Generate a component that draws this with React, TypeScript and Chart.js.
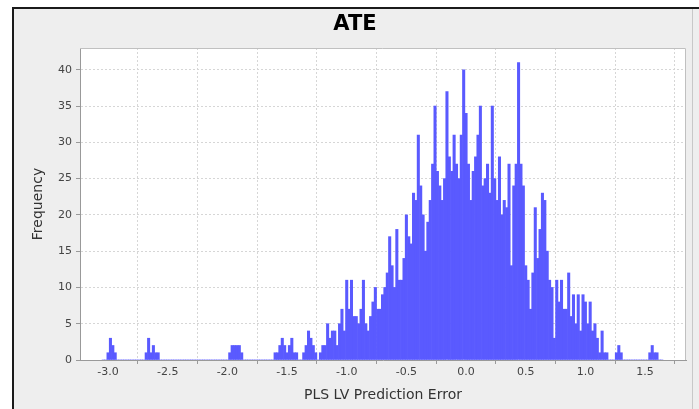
import React, { useEffect, useRef } from 'react';
import { Chart, registerables } from 'chart.js';

Chart.register(...registerables);

const chartTitle = 'ATE';
const xAxisTitle = 'PLS LV Prediction Error';
const yAxisTitle = 'Frequency';

// histogram bins: centre of the first bin and width of each bin
const binStart = -3.04;
const binWidth = 0.02;

// counts per bin (10 bins per row)
const frequency = [
  0, 0, 1, 3, 2, 1, 0, 0, 0, 0, // -3.04
  0, 0, 0, 0, 0, 0, 0, 0, 1, 3, // -2.84
  1, 2, 1, 1, 0, 0, 0, 0, 0, 0, // -2.64
  0, 0, 0, 0, 0, 0, 0, 0, 0, 0, // -2.44
  0, 0, 0, 0, 0, 0, 0, 0, 0, 0, // -2.24
  0, 0, 0, 1, 2, 2, 2, 2, 1, 0, // -2.04
  0, 0, 0, 0, 0, 0, 0, 0, 0, 0, // -1.84
  0, 0, 1, 1, 2, 3, 2, 1, 2, 3, // -1.64
  1, 1, 0, 0, 1, 2, 4, 3, 2, 1, // -1.44
  0, 1, 2, 2, 5, 3, 4, 4, 2, 5, // -1.24
  7, 4, 11, 7, 11, 6, 6, 5, 7, 11, // -1.04
  5, 4, 6, 8, 10, 7, 7, 9, 10, 12, // -0.84
  17, 13, 10, 18, 11, 11, 14, 20, 17, 16, // -0.64
  23, 22, 31, 24, 20, 15, 19, 22, 27, 35, // -0.44
  26, 24, 22, 25, 37, 28, 26, 31, 27, 25, // -0.24
  31, 40, 34, 27, 22, 26, 28, 31, 35, 24, // -0.04
  25, 27, 23, 35, 25, 22, 28, 20, 22, 21, // 0.16
  27, 13, 24, 27, 41, 27, 24, 13, 11, 7, // 0.36
  12, 21, 14, 18, 23, 22, 15, 11, 10, 3, // 0.56
  11, 8, 11, 7, 7, 12, 6, 9, 5, 9, // 0.76
  4, 9, 8, 5, 8, 4, 5, 3, 1, 4, // 0.96
  1, 1, 0, 0, 0, 1, 2, 1, 0, 0, // 1.16
  0, 0, 0, 0, 0, 0, 0, 0, 0, 1, // 1.36
  2, 1, 1, 0, 0, // 1.56
];

const xTickValues = [-3.0, -2.5, -2.0, -1.5, -1.0, -0.5, 0.0, 0.5, 1.0, 1.5];
const yTickValues = [0, 5, 10, 15, 20, 25, 30, 35, 40];
const xRange = [-3.235, 1.843];
const yRange = [0, 43];

const FONT = "'DejaVu Sans', sans-serif";

export default function App() {
  const ref = useRef<HTMLCanvasElement>(null);

  useEffect(() => {
    const canvas = ref.current;
    if (!canvas) return;

    const points = frequency.map((f, i) => ({
      x: Number((binStart + i * binWidth).toFixed(2)),
      y: f,
    }));

    const framePlugin = {
      id: 'framePlugin',
      beforeDraw(chart: any) {
        const { ctx, width, height, chartArea: a } = chart;
        ctx.save();
        ctx.fillStyle = '#ffffff';
        ctx.fillRect(0, 0, width, height);
        ctx.fillStyle = '#eeeeee';
        ctx.fillRect(14, 9, width - 14, height - 9);
        ctx.fillStyle = '#1a1a1a';
        ctx.fillRect(12, 7, width - 12, 2);
        ctx.fillRect(12, 7, 2, height - 7);
        ctx.fillStyle = '#c8c8c8';
        ctx.fillRect(692, 9, 1, height - 9);
        ctx.fillStyle = '#ffffff';
        ctx.fillRect(a.left, a.top, a.right - a.left, a.bottom - a.top);
        ctx.restore();
      },
      afterDraw(chart: any) {
        const { ctx, chartArea: a } = chart;
        ctx.save();
        ctx.strokeStyle = '#c0c0c0';
        ctx.lineWidth = 1;
        ctx.beginPath();
        ctx.moveTo(a.left, a.top + 0.5);
        ctx.lineTo(a.right - 0.5, a.top + 0.5);
        ctx.lineTo(a.right - 0.5, a.bottom);
        ctx.stroke();
        ctx.restore();
      },
    };

    const chart = new Chart(canvas, {
      type: 'bar',
      data: {
        datasets: [
          {
            label: yAxisTitle,
            data: points,
            backgroundColor: 'rgb(90, 90, 255)',
            borderWidth: 0,
            barPercentage: 1,
            categoryPercentage: 1,
          },
        ],
      },
      options: {
        responsive: false,
        animation: false,
        layout: { padding: { left: 24, right: 13, top: 0, bottom: 0 } },
        plugins: {
          legend: { display: false },
          tooltip: { enabled: false },
          title: {
            display: true,
            text: chartTitle,
            color: '#000000',
            font: { family: FONT, size: 21, weight: 'bold' },
            padding: { top: 12.4, bottom: 10.4 },
          },
        },
        scales: {
          x: {
            type: 'linear',
            min: xRange[0],
            max: xRange[1],
            offset: false,
            afterBuildTicks: (s: any) => {
              s.ticks = xTickValues.map((v) => ({ value: v }));
            },
            afterFit: (s: any) => {
              s.height = 49;
            },
            ticks: {
              autoSkip: false,
              maxRotation: 0,
              padding: 2,
              color: '#444444',
              font: { family: FONT, size: 11 },
              callback: (v: any) => Number(v).toFixed(1),
            },
            grid: { color: '#d6d6d6', tickColor: '#999999', tickLength: 4 },
            border: { color: '#999999', dash: [2, 2] },
            title: {
              display: true,
              text: xAxisTitle,
              color: '#333333',
              font: { family: FONT, size: 14 },
              padding: { top: 0, bottom: 5 },
            },
          },
          y: {
            type: 'linear',
            min: yRange[0],
            max: yRange[1],
            afterBuildTicks: (s: any) => {
              s.ticks = yTickValues.map((v) => ({ value: v }));
            },
            afterFit: (s: any) => {
              s.width = 56;
            },
            ticks: {
              padding: 4,
              color: '#444444',
              font: { family: FONT, size: 11 },
            },
            grid: { color: '#d6d6d6', tickColor: '#999999', tickLength: 4 },
            border: { color: '#999999', dash: [2, 2] },
            title: {
              display: true,
              text: yAxisTitle,
              color: '#333333',
              font: { family: FONT, size: 14 },
              padding: { top: 6, bottom: 0 },
            },
          },
        },
      } as any,
      plugins: [framePlugin],
    });

    return () => chart.destroy();
  }, []);

  return (
    <div style={{ position: 'fixed', left: 0, top: 0, width: 699, height: 409 }}>
      <canvas ref={ref} width={699} height={409} style={{ display: 'block' }} />
    </div>
  );
}
